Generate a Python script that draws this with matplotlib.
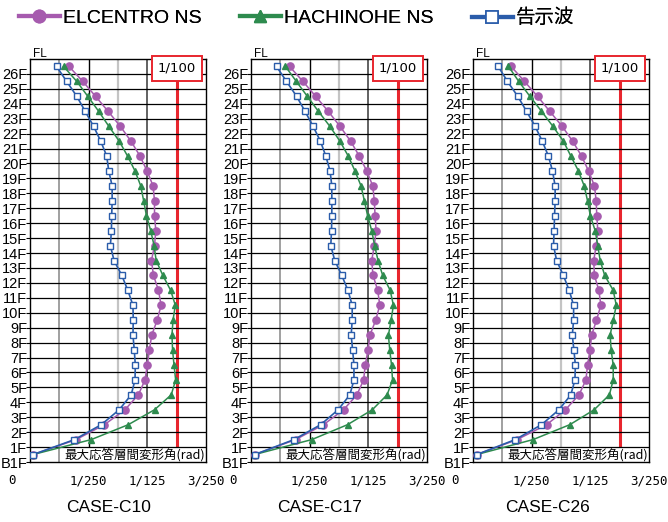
import numpy as np
import matplotlib
matplotlib.use("Agg")
import matplotlib.pyplot as plt
from matplotlib.lines import Line2D

# ---- data (story drift angle, unit: 1/1000 rad), story B1F .. 26F ----
FLOOR_LABELS = ["B1F"] + [f"{i}F" for i in range(1, 27)]
CASES = ["CASE-C10", "CASE-C17", "CASE-C26"]
SERIES_NAMES = ["ELCENTRO NS", "HACHINOHE NS", "告示波"]

elcentro_c10 = [0.21, 3.14, 5.07, 6.47, 7.39, 7.84, 8.00, 8.14, 8.30, 8.67, 8.94, 8.76, 8.42, 8.28,
                8.49, 8.58, 8.49, 8.49, 8.39, 7.98, 7.50, 6.88, 6.15, 5.32, 4.47, 3.60, 2.66]
hachinohe_c10 = [0.21, 4.17, 6.70, 8.49, 9.63, 9.93, 9.82, 9.72, 9.68, 9.75, 9.91, 9.59, 9.06, 8.60,
                 8.46, 8.23, 7.94, 7.75, 7.55, 7.16, 6.65, 6.08, 5.37, 4.68, 3.94, 3.19, 2.29]
kokuji_c10 = [0.21, 3.03, 4.86, 6.08, 6.90, 7.16, 7.18, 7.11, 7.02, 7.04, 7.02, 6.67, 6.26, 5.73,
              5.48, 5.55, 5.57, 5.60, 5.60, 5.37, 5.23, 4.82, 4.33, 3.76, 3.19, 2.50, 1.81]

elcentro_c17 = [0.25, 3.04, 4.94, 6.31, 7.22, 7.68, 7.79, 7.98, 8.11, 8.50, 8.78, 8.64, 8.32, 8.23,
                8.41, 8.53, 8.46, 8.41, 8.30, 7.89, 7.38, 6.79, 6.06, 5.26, 4.41, 3.54, 2.63]
hachinohe_c17 = [0.25, 4.14, 6.58, 8.27, 9.28, 9.65, 9.58, 9.46, 9.37, 9.55, 9.71, 9.49, 8.98, 8.66,
                 8.43, 8.23, 7.95, 7.73, 7.50, 7.09, 6.63, 6.06, 5.37, 4.59, 3.84, 3.09, 2.35]
kokuji_c17 = [0.25, 2.93, 4.75, 5.94, 6.74, 7.02, 7.02, 6.93, 6.83, 6.90, 6.90, 6.61, 6.19, 5.71,
              5.44, 5.49, 5.51, 5.51, 5.51, 5.39, 5.10, 4.73, 4.23, 3.68, 3.11, 2.42, 1.74]

elcentro_c26 = [0.26, 3.00, 5.02, 6.30, 7.23, 7.70, 7.81, 7.98, 8.09, 8.42, 8.72, 8.58, 8.28, 8.23,
                8.40, 8.51, 8.44, 8.40, 8.28, 7.88, 7.40, 6.79, 6.07, 5.23, 4.40, 3.51, 2.60]
hachinohe_c26 = [0.26, 4.09, 6.60, 8.26, 9.30, 9.56, 9.56, 9.42, 9.35, 9.56, 9.77, 9.56, 8.98, 8.67,
                 8.51, 8.33, 8.00, 7.81, 7.58, 7.19, 6.67, 6.16, 5.44, 4.67, 3.88, 3.12, 2.42]
kokuji_c26 = [0.26, 2.88, 4.67, 5.86, 6.67, 6.95, 6.98, 6.88, 6.77, 6.86, 6.86, 6.56, 6.16, 5.70,
              5.49, 5.53, 5.56, 5.60, 5.60, 5.42, 5.14, 4.72, 4.23, 3.65, 3.05, 2.35, 1.72]

X_TICKS = [0.004, 0.008, 0.012]
X_TICK_LABELS = ["1/250", "1/125", "3/250"]
LIMIT = 0.01   # 1/100

# ---- styles ----
PURPLE = "#A65BAE"
GREEN = "#2E8B4E"
BLUE = "#2A5CAA"
RED = "#E8262E"
SANS = ["Liberation Sans", "Noto Sans CJK JP"]
W, H = 668, 522
PANEL_LEFT = [30, 251, 473]     # px
PANEL_W, PANEL_TOP, PANEL_BOT = 176, 59, 462
TITLE_X = [109, 320, 548]
LEGEND_X = [19, 240, 472]       # px, start of each legend handle


def draw_panel(ax, el, ha, ko):
    y = np.arange(len(FLOOR_LABELS)) + 0.5
    ax.set_xlim(0, 0.012)
    ax.set_ylim(0, 27)

    # grid
    for f in range(1, 27):
        ax.axhline(f, color="black", lw=0.9, zorder=2)
    ax.axvline(0.002, color="#999999", lw=1.3, zorder=1)
    ax.axvline(0.004, color="black", lw=1.0, zorder=1)
    ax.axvline(0.006, color="#c4c4c4", lw=1.6, zorder=1)
    ax.axvline(0.008, color="#555555", lw=1.3, zorder=1)
    ax.axvline(LIMIT, color=RED, lw=2.2, zorder=1)

    ax.plot(np.array(ko) / 1000, y, color=BLUE, lw=1.2, marker="s", ms=4.6,
            mfc="white", mec=BLUE, mew=1.0, zorder=5)
    ax.plot(np.array(ha) / 1000, y, color=GREEN, lw=1.1, marker="^", ms=4.6, zorder=4)
    ax.plot(np.array(el) / 1000, y, color=PURPLE, lw=1.1, marker="o", ms=5.2, zorder=3)

    ax.set_yticks(range(27))
    ax.set_yticklabels(FLOOR_LABELS, family=SANS, fontsize=10.5)
    ax.set_xticks(X_TICKS)
    ax.set_xticklabels(X_TICK_LABELS, family="DejaVu Sans Mono", fontsize=9)
    ax.tick_params(axis="y", length=3, width=0.8, pad=-1)
    ax.tick_params(axis="x", length=0, pad=9)
    for s in ax.spines.values():
        s.set_linewidth(1.0)
        s.set_color("black")

    ax.annotate("0", xy=(0, 0), xycoords="axes fraction", xytext=(-18, -18),
                textcoords="offset pixels", ha="center", va="center",
                family="DejaVu Sans Mono", fontsize=9)
    ax.annotate("FL", xy=(0, 1), xycoords="axes fraction", xytext=(3, 5),
                textcoords="offset pixels", ha="left", va="center",
                family=SANS, fontsize=8.5)
    ax.text(LIMIT, 26.39, "1/100", ha="center", va="center", fontsize=9.5,
            zorder=10, clip_on=False,
            bbox=dict(boxstyle="square,pad=0.45", fc="white", ec=RED, lw=1.4))
    ax.text(0.0119, 0.5, "最大応答層間変形角(rad)", ha="right", va="center",
            family=["Noto Sans CJK JP", "DejaVu Sans"], fontsize=9, zorder=1.5,
            bbox=dict(boxstyle="square,pad=0.1", fc="white", ec="none"))


def main():
    fig = plt.figure(figsize=(W / 100, H / 100), dpi=100)
    data = [(elcentro_c10, hachinohe_c10, kokuji_c10),
            (elcentro_c17, hachinohe_c17, kokuji_c17),
            (elcentro_c26, hachinohe_c26, kokuji_c26)]
    for i, case in enumerate(CASES):
        ax = fig.add_axes([PANEL_LEFT[i] / W, (H - PANEL_BOT) / H,
                           PANEL_W / W, (PANEL_BOT - PANEL_TOP) / H])
        draw_panel(ax, *data[i])
        fig.text(TITLE_X[i] / W, 1 - 507 / H, case, ha="center", va="center",
                 family=SANS, fontsize=12.5)

    handles = [
        Line2D([], [], color=PURPLE, lw=3, marker="o", ms=9),
        Line2D([], [], color=GREEN, lw=3, marker="^", ms=9),
        Line2D([], [], color=BLUE, lw=3, marker="s", ms=8, mfc="white", mec=BLUE, mew=1.2),
    ]
    # one legend per entry so each can sit where the reference puts it
    for h, name, x0 in zip(handles, SERIES_NAMES, LEGEND_X):
        leg = fig.legend([h], [name], loc="center left",
                         bbox_to_anchor=(x0 / W, 1 - 18 / H), frameon=False,
                         prop={"family": SANS, "size": 14}, handlelength=2.1,
                         handletextpad=0.15, borderpad=0, borderaxespad=0)
        fig.add_artist(leg)

    fig.savefig("out.png", dpi=100)


if __name__ == "__main__":
    main()
